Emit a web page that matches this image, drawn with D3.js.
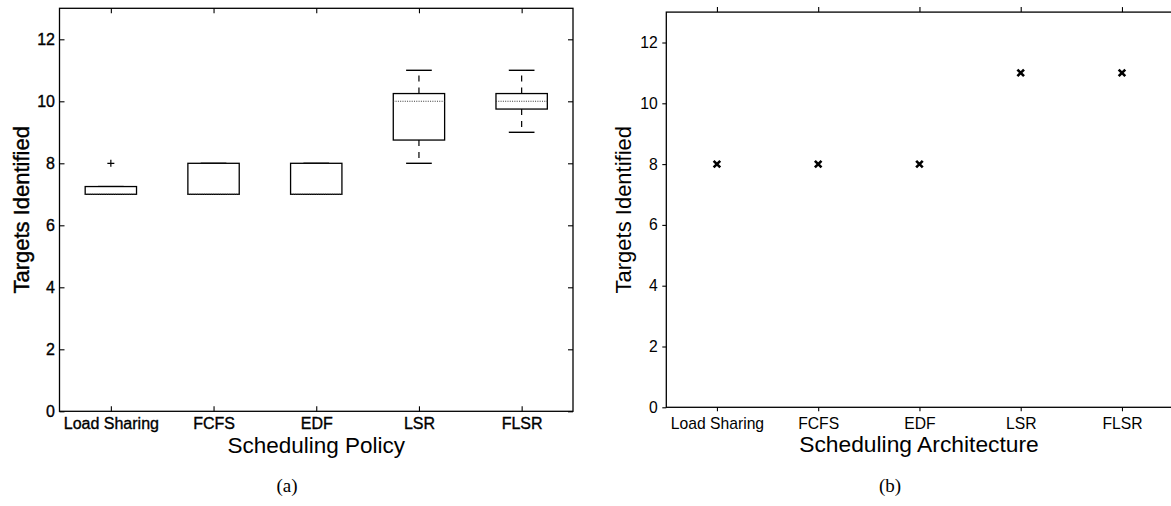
<!DOCTYPE html>
<html><head><meta charset="utf-8">
<script src="https://cdnjs.cloudflare.com/ajax/libs/d3/7.8.5/d3.min.js"></script>
<style>
body{margin:0;background:#fff;}
svg{display:block;}
text{font-family:"Liberation Sans",Arial,sans-serif;fill:#000;}
</style></head>
<body>
<svg id="chart" width="1171" height="506"></svg>
<script>
// ---- data ----
const categories = ["Load Sharing", "FCFS", "EDF", "LSR", "FLSR"];
const boxQ1 = [7, 7, 7, 8.75, 9.75];
const boxMedian = [7, 7, 7, 10, 10];
const boxQ3 = [7.25, 8, 8, 10.25, 10.25];
const whiskerLow = [7, 7, 7, 8, 9];
const whiskerHigh = [7.25, 8, 8, 11, 11];
const outlierCat = ["Load Sharing"];
const outlierVal = [8];
const architectureValues = [8, 8, 8, 11, 11];
const yTicks = [0, 2, 4, 6, 8, 10, 12];

const svg = d3.select("#chart");
const idx = d3.range(categories.length);

// ---------- Panel (a) ----------
const A = {left: 59.5, right: 573, top: 8.3, bottom: 411.3};
const xA = d3.scaleLinear().domain([0.5, 5.5]).range([A.left, A.right]);
const yA = d3.scaleLinear().domain([0, 13]).range([A.bottom, A.top]);
const gA = svg.append("g");

gA.append("rect").attr("x", A.left).attr("y", A.top)
  .attr("width", A.right - A.left).attr("height", A.bottom - A.top)
  .attr("fill", "none").attr("stroke", "#000").attr("stroke-width", 1.3);

const catPos = categories.map((c, i) => i + 1);
const tickFmt = i => categories[i - 1];

const axA_b = gA.append("g").attr("transform", `translate(0,${A.bottom})`)
  .call(d3.axisBottom(xA).tickValues(catPos).tickFormat(tickFmt).tickSizeInner(-5).tickSizeOuter(0).tickPadding(6.5));
const axA_t = gA.append("g").attr("transform", `translate(0,${A.top})`)
  .call(d3.axisTop(xA).tickValues(catPos).tickFormat("").tickSizeInner(-5).tickSizeOuter(0));
const axA_l = gA.append("g").attr("transform", `translate(${A.left},0)`)
  .call(d3.axisLeft(yA).tickValues(yTicks).tickSizeInner(-5).tickSizeOuter(0).tickPadding(4.5));
const axA_r = gA.append("g").attr("transform", `translate(${A.right},0)`)
  .call(d3.axisRight(yA).tickValues(yTicks).tickFormat("").tickSizeInner(-5).tickSizeOuter(0));
[axA_b, axA_t, axA_l, axA_r].forEach(a => {
  a.select(".domain").remove();
  a.selectAll("line").attr("stroke", "#000").attr("stroke-width", 1.1);
  a.selectAll("text").attr("font-size", 16).attr("font-family", '"Liberation Sans",Arial,sans-serif')
    .attr("stroke", "#000").attr("stroke-width", 0.35);
});

// box plots
const bw = 0.5, cw = 0.25;
const boxes = gA.append("g");
idx.forEach(i => {
  const c = i + 1;
  boxes.append("line").attr("x1", xA(c)).attr("x2", xA(c))
    .attr("y1", yA(boxQ3[i])).attr("y2", yA(whiskerHigh[i]))
    .attr("stroke", "#000").attr("stroke-width", 1.2).attr("stroke-dasharray", "6,6");
  boxes.append("line").attr("x1", xA(c)).attr("x2", xA(c))
    .attr("y1", yA(boxQ1[i])).attr("y2", yA(whiskerLow[i]))
    .attr("stroke", "#000").attr("stroke-width", 1.2).attr("stroke-dasharray", "6,6");
  [whiskerHigh[i], whiskerLow[i]].forEach(v => {
    boxes.append("line").attr("x1", xA(c - cw / 2)).attr("x2", xA(c + cw / 2))
      .attr("y1", yA(v)).attr("y2", yA(v)).attr("stroke", "#000").attr("stroke-width", 1.4);
  });
  boxes.append("rect").attr("x", xA(c - bw / 2)).attr("y", yA(boxQ3[i]))
    .attr("width", xA(c + bw / 2) - xA(c - bw / 2)).attr("height", yA(boxQ1[i]) - yA(boxQ3[i]))
    .attr("fill", "#fff").attr("stroke", "#000").attr("stroke-width", 1.3);
  boxes.append("line").attr("x1", xA(c - bw / 2)).attr("x2", xA(c + bw / 2))
    .attr("y1", yA(boxMedian[i])).attr("y2", yA(boxMedian[i]))
    .attr("stroke", "#333").attr("stroke-width", 1.1).attr("stroke-dasharray", "1,1.3");
});
outlierCat.forEach((c, k) => {
  const px = xA(categories.indexOf(c) + 1), py = yA(outlierVal[k]);
  boxes.append("path").attr("d", `M${px - 3.5},${py}H${px + 3.5}M${px},${py - 3.5}V${py + 3.5}`)
    .attr("stroke", "#000").attr("stroke-width", 1.2);
});

gA.append("text").attr("transform", `translate(29,${(A.top + A.bottom) / 2}) rotate(-90)`)
  .attr("text-anchor", "middle").attr("font-size", 22)
  .attr("stroke", "#000").attr("stroke-width", 0.4).text("Targets Identified");
gA.append("text").attr("x", (A.left + A.right) / 2).attr("y", 452.5)
  .attr("text-anchor", "middle").attr("font-size", 22.5).text("Scheduling Policy");
gA.append("text").attr("x", 287).attr("y", 492).attr("text-anchor", "middle")
  .attr("font-size", 19).style("font-family", '"Liberation Serif","Times New Roman",serif').text("(a)");

// ---------- Panel (b) ----------
const B = {left: 666.3, right: 1172.6, top: 12.1, bottom: 407.3};
const xB = d3.scaleLinear().domain([0.5, 5.5]).range([B.left, B.right]);
const yB = d3.scaleLinear().domain([0, 13]).range([B.bottom, B.top]);
const gB = svg.append("g");

gB.append("rect").attr("x", B.left).attr("y", B.top)
  .attr("width", B.right - B.left).attr("height", B.bottom - B.top)
  .attr("fill", "none").attr("stroke", "#000").attr("stroke-width", 1.3);

const axB_b = gB.append("g").attr("transform", `translate(0,${B.bottom})`)
  .call(d3.axisBottom(xB).tickValues(catPos).tickFormat(tickFmt).tickSizeInner(4).tickSizeOuter(0).tickPadding(6.5));
const axB_t = gB.append("g").attr("transform", `translate(0,${B.top})`)
  .call(d3.axisTop(xB).tickValues(catPos).tickFormat("").tickSizeInner(5).tickSizeOuter(0));
const axB_l = gB.append("g").attr("transform", `translate(${B.left},0)`)
  .call(d3.axisLeft(yB).tickValues(yTicks).tickSizeInner(4).tickSizeOuter(0).tickPadding(4.6));
[axB_b, axB_t, axB_l].forEach(a => {
  a.select(".domain").remove();
  a.selectAll("line").attr("stroke", "#000").attr("stroke-width", 1.1);
  a.selectAll("text").attr("font-size", 15.7).attr("font-family", '"Liberation Sans",Arial,sans-serif');
});

const ms = 3.3;
gB.append("g").selectAll("path").data(idx).join("path")
  .attr("d", i => {
    const px = xB(i + 1), py = yB(architectureValues[i]);
    return `M${px - ms},${py - ms}L${px + ms},${py + ms}M${px - ms},${py + ms}L${px + ms},${py - ms}`;
  })
  .attr("stroke", "#000").attr("stroke-width", 2.6);

gB.append("text").attr("transform", `translate(631,${(B.top + B.bottom) / 2}) rotate(-90)`)
  .attr("text-anchor", "middle").attr("font-size", 22).text("Targets Identified");
gB.append("text").attr("x", 919).attr("y", 451.5)
  .attr("text-anchor", "middle").attr("font-size", 22.8).text("Scheduling Architecture");
gB.append("text").attr("x", 890).attr("y", 492).attr("text-anchor", "middle")
  .attr("font-size", 19).style("font-family", '"Liberation Serif","Times New Roman",serif').text("(b)");
</script>
</body></html>
